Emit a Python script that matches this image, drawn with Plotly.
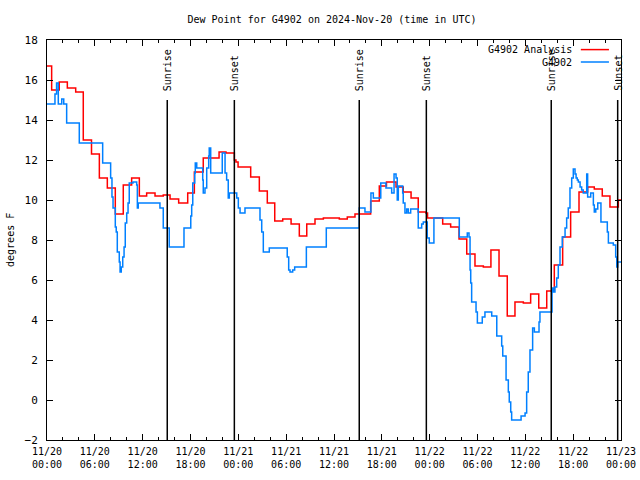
import plotly.graph_objects as go

# ---- data ----
analysis_time = [
    "2024-11-20 00:00", "2024-11-20 00:35", "2024-11-20 01:32", "2024-11-20 02:33", "2024-11-20 03:36",
    "2024-11-20 04:33", "2024-11-20 05:35", "2024-11-20 06:34", "2024-11-20 07:34", "2024-11-20 08:34",
    "2024-11-20 09:34", "2024-11-20 10:37", "2024-11-20 11:35", "2024-11-20 12:30", "2024-11-20 13:33",
    "2024-11-20 14:35", "2024-11-20 15:26", "2024-11-20 16:31", "2024-11-20 17:39", "2024-11-20 18:29",
    "2024-11-20 19:36", "2024-11-20 21:35", "2024-11-20 22:27", "2024-11-20 23:30", "2024-11-20 23:42",
    "2024-11-20 23:58", "2024-11-21 01:33", "2024-11-21 02:38", "2024-11-21 03:38", "2024-11-21 04:34",
    "2024-11-21 05:34", "2024-11-21 06:37", "2024-11-21 07:39", "2024-11-21 08:35", "2024-11-21 09:37",
    "2024-11-21 10:40", "2024-11-21 12:40", "2024-11-21 13:40", "2024-11-21 14:38", "2024-11-21 16:36",
    "2024-11-21 17:41", "2024-11-21 18:35", "2024-11-21 19:47", "2024-11-21 20:41", "2024-11-21 21:40",
    "2024-11-21 22:34", "2024-11-21 23:32", "2024-11-21 23:44", "2024-11-22 01:38", "2024-11-22 02:38",
    "2024-11-22 03:41", "2024-11-22 04:39", "2024-11-22 05:41", "2024-11-22 06:44", "2024-11-22 07:41",
    "2024-11-22 08:42", "2024-11-22 09:44", "2024-11-22 10:42", "2024-11-22 11:45", "2024-11-22 12:40",
    "2024-11-22 13:41", "2024-11-22 14:41", "2024-11-22 15:38", "2024-11-22 16:41", "2024-11-22 17:41",
    "2024-11-22 18:44", "2024-11-22 19:49", "2024-11-22 20:39", "2024-11-22 21:39", "2024-11-22 22:37",
    "2024-11-22 23:40", "2024-11-23 00:00",
]
analysis_dewpt = [
    16.7, 15.5, 15.9, 15.6, 15.4,
    13.0, 12.3, 11.1, 10.6, 9.3,
    10.75, 11.1, 10.2, 10.35, 10.2,
    10.25, 10.05, 9.85, 10.35, 11.4,
    12.1, 12.4, 12.35, 12.0, 11.9,
    11.65, 11.15, 10.45, 9.85, 8.95,
    9.05, 8.8, 8.2, 8.8, 9.05,
    9.1, 9.05, 9.15, 9.3, 9.95,
    10.7, 10.9, 10.65, 10.4, 10.1,
    9.4, 9.35, 9.1, 8.8, 8.65,
    8.05, 7.3, 6.7, 6.65, 7.5,
    6.2, 4.2, 4.9, 4.85, 5.3,
    4.6, 5.45, 6.75, 8.15, 9.4,
    10.4, 10.65, 10.55, 10.2, 9.65,
    10.0, 10.0,
]

station_time = [
    "2024-11-20 00:00", "2024-11-20 01:00", "2024-11-20 01:12", "2024-11-20 01:25", "2024-11-20 01:51",
    "2024-11-20 02:06", "2024-11-20 02:28", "2024-11-20 04:03", "2024-11-20 06:59", "2024-11-20 07:59",
    "2024-11-20 08:09", "2024-11-20 08:17", "2024-11-20 08:34", "2024-11-20 08:41", "2024-11-20 08:49",
    "2024-11-20 09:04", "2024-11-20 09:10", "2024-11-20 09:19", "2024-11-20 09:30", "2024-11-20 09:40",
    "2024-11-20 09:49", "2024-11-20 10:00", "2024-11-20 10:10", "2024-11-20 10:19", "2024-11-20 10:47",
    "2024-11-20 11:15", "2024-11-20 11:20", "2024-11-20 11:27", "2024-11-20 14:10", "2024-11-20 14:35",
    "2024-11-20 15:20", "2024-11-20 17:11", "2024-11-20 18:02", "2024-11-20 18:09", "2024-11-20 18:17",
    "2024-11-20 18:32", "2024-11-20 18:36", "2024-11-20 18:47", "2024-11-20 19:32", "2024-11-20 19:36",
    "2024-11-20 19:49", "2024-11-20 20:02", "2024-11-20 20:17", "2024-11-20 20:21", "2024-11-20 20:32",
    "2024-11-20 21:59", "2024-11-20 22:20", "2024-11-20 22:32", "2024-11-20 22:44", "2024-11-20 22:52",
    "2024-11-20 23:48", "2024-11-21 00:00", "2024-11-21 00:13", "2024-11-21 00:50", "2024-11-21 02:43",
    "2024-11-21 02:56", "2024-11-21 03:08", "2024-11-21 03:53", "2024-11-21 06:08", "2024-11-21 06:19",
    "2024-11-21 06:29", "2024-11-21 06:49", "2024-11-21 07:04", "2024-11-21 08:32", "2024-11-21 11:02",
    "2024-11-21 15:10", "2024-11-21 15:53", "2024-11-21 16:38", "2024-11-21 16:56", "2024-11-21 17:52",
    "2024-11-21 18:31", "2024-11-21 19:14", "2024-11-21 19:32", "2024-11-21 19:47", "2024-11-21 19:56",
    "2024-11-21 20:04", "2024-11-21 20:37", "2024-11-21 20:41", "2024-11-21 20:54", "2024-11-21 21:07",
    "2024-11-21 21:19", "2024-11-21 21:37", "2024-11-21 22:34", "2024-11-21 23:00", "2024-11-21 23:12",
    "2024-11-21 23:42", "2024-11-21 23:57", "2024-11-22 00:32", "2024-11-22 03:43", "2024-11-22 04:43",
    "2024-11-22 04:56", "2024-11-22 05:04", "2024-11-22 05:09", "2024-11-22 05:16", "2024-11-22 05:49",
    "2024-11-22 05:59", "2024-11-22 06:36", "2024-11-22 06:56", "2024-11-22 07:47", "2024-11-22 08:25",
    "2024-11-22 09:02", "2024-11-22 09:10", "2024-11-22 09:35", "2024-11-22 09:52", "2024-11-22 09:59",
    "2024-11-22 10:10", "2024-11-22 10:17", "2024-11-22 11:28", "2024-11-22 11:58", "2024-11-22 12:10",
    "2024-11-22 12:22", "2024-11-22 12:35", "2024-11-22 12:55", "2024-11-22 13:08", "2024-11-22 13:43",
    "2024-11-22 13:50", "2024-11-22 15:21", "2024-11-22 15:31", "2024-11-22 15:43", "2024-11-22 15:56",
    "2024-11-22 16:08", "2024-11-22 16:21", "2024-11-22 16:38", "2024-11-22 16:59", "2024-11-22 17:11",
    "2024-11-22 17:23", "2024-11-22 17:36", "2024-11-22 17:49", "2024-11-22 18:01", "2024-11-22 18:14",
    "2024-11-22 18:22", "2024-11-22 18:31", "2024-11-22 18:39", "2024-11-22 18:52", "2024-11-22 19:04",
    "2024-11-22 19:16", "2024-11-22 19:42", "2024-11-22 19:49", "2024-11-22 20:12", "2024-11-22 20:32",
    "2024-11-22 20:39", "2024-11-22 20:50", "2024-11-22 21:05", "2024-11-22 21:29", "2024-11-22 22:17",
    "2024-11-22 22:25", "2024-11-22 23:02", "2024-11-22 23:20", "2024-11-22 23:28", "2024-11-22 23:35",
    "2024-11-23 00:00",
]
station_dewpt = [
    14.8, 15.3, 15.85, 14.8, 15.05,
    14.8, 13.85, 12.85, 11.85, 11.1,
    10.15, 9.6, 8.65, 8.4, 7.4,
    6.9, 6.4, 6.65, 7.15, 7.65,
    8.85, 9.35, 9.85, 10.85, 10.9,
    10.75, 9.6, 9.85, 9.6, 8.6,
    7.65, 8.6, 9.2, 9.75, 10.85,
    11.35, 11.85, 11.6, 11.0, 10.35,
    10.6, 11.6, 12.2, 12.6, 11.35,
    12.35, 11.35, 11.0, 10.1, 10.35,
    10.1, 9.6, 9.35, 9.6, 9.0,
    8.4, 7.4, 7.6, 7.15, 6.5,
    6.4, 6.5, 6.65, 7.65, 8.6,
    9.6, 9.4, 10.35, 10.1, 10.85,
    10.6, 10.35, 11.3, 11.1, 10.0,
    10.7, 10.35, 9.85, 9.35, 9.55,
    9.35, 9.55, 8.6, 8.8, 8.9,
    8.1, 7.85, 9.1, 8.15, 8.35,
    8.15, 6.5, 5.85, 4.9, 4.4,
    3.85, 4.15, 4.4, 4.2, 3.2,
    2.7, 2.2, 1.0, 0.4, -0.1,
    -0.6, -1.0, -0.8, -0.65, 0.4,
    1.4, 2.5, 3.6, 3.4, 3.9,
    4.4, 5.6, 5.4, 5.65, 6.1,
    6.75, 7.65, 8.15, 8.6, 9.1,
    9.6, 10.6, 11.1, 11.55, 11.3,
    11.1, 11.0, 10.9, 10.65, 10.5,
    10.35, 11.3, 10.15, 10.35, 9.75,
    9.4, 9.55, 9.85, 8.9, 8.4,
    7.85, 7.75, 7.15, 6.65, 6.9,
    6.9,
]

sun_times = ["2024-11-20 15:05", "2024-11-20 23:30", "2024-11-21 15:10",
             "2024-11-21 23:35", "2024-11-22 15:15", "2024-11-22 23:35"]
sun_labels = ["Sunrise", "Sunset", "Sunrise", "Sunset", "Sunrise", "Sunset"]

tick_vals = ["2024-11-20 00:00", "2024-11-20 06:00", "2024-11-20 12:00", "2024-11-20 18:00",
             "2024-11-21 00:00", "2024-11-21 06:00", "2024-11-21 12:00", "2024-11-21 18:00",
             "2024-11-22 00:00", "2024-11-22 06:00", "2024-11-22 12:00", "2024-11-22 18:00",
             "2024-11-23 00:00"]
tick_text = ["11/20<br>00:00", "11/20<br>06:00", "11/20<br>12:00", "11/20<br>18:00",
             "11/21<br>00:00", "11/21<br>06:00", "11/21<br>12:00", "11/21<br>18:00",
             "11/22<br>00:00", "11/22<br>06:00", "11/22<br>12:00", "11/22<br>18:00",
             "11/23<br>00:00"]

RED = "#ff0000"
BLUE = "#0080ff"
FONT = "DejaVu Sans Mono"

fig = go.Figure()
fig.add_trace(go.Scatter(x=analysis_time, y=analysis_dewpt, mode="lines",
                         line=dict(color=RED, width=1.5, shape="hv"),
                         name="G4902 Analysis", showlegend=False))
fig.add_trace(go.Scatter(x=station_time, y=station_dewpt, mode="lines",
                         line=dict(color=BLUE, width=1.5, shape="hv"),
                         name="G4902", showlegend=False))

for t, lab in zip(sun_times, sun_labels):
    fig.add_shape(type="line", xref="x", yref="y", x0=t, x1=t, y0=-2, y1=15,
                  line=dict(color="black", width=1.5))
    fig.add_annotation(x=t, y=15.35, xref="x", yref="y", text=lab, textangle=-90,
                       showarrow=False, xanchor="center", yanchor="bottom",
                       font=dict(family=FONT, size=10, color="black"))

# legend (gnuplot style: text then sample)
legend_items = [("G4902 Analysis", RED, 0.976), ("G4902", BLUE, 0.945)]
for txt, col, yy in legend_items:
    fig.add_annotation(x=0.918, y=yy, xref="paper", yref="paper", text=txt,
                       showarrow=False, xanchor="right", yanchor="middle",
                       font=dict(family=FONT, size=10, color="black"))
    fig.add_shape(type="line", xref="paper", yref="paper", x0=0.930, x1=0.979,
                  y0=yy, y1=yy, line=dict(color=col, width=1.5))

fig.add_annotation(x=-0.0645, y=0.5, xref="paper", yref="paper", text="degrees F",
                   textangle=-90, showarrow=False, xanchor="center", yanchor="middle",
                   font=dict(family=FONT, size=10, color="black"))

fig.update_layout(
    width=640, height=480,
    margin=dict(l=47, r=19, t=40, b=40, autoexpand=False),
    paper_bgcolor="white", plot_bgcolor="white",
    font=dict(family=FONT, size=10, color="black"),
    title=dict(text="Dew Point for G4902 on 2024-Nov-20 (time in UTC)",
               x=0.4965, xref="paper", xanchor="center", y=0.96, yanchor="middle",
               font=dict(family=FONT, size=10, color="black")),
    showlegend=False,
)
fig.update_xaxes(
    type="date", range=["2024-11-20 00:00", "2024-11-23 00:00"],
    tickvals=tick_vals, ticktext=tick_text, automargin=False,
    ticks="inside", ticklen=6, tickcolor="black", tickwidth=1,
    ticklabelstandoff=2,
    minor=dict(dtick=2 * 3600 * 1000, tick0="2024-11-20 00:00", ticks="inside",
               ticklen=3, tickcolor="black", showgrid=False),
    showline=True, linecolor="black", linewidth=1, mirror="ticks",
    showgrid=False, zeroline=False,
    tickfont=dict(family=FONT, size=10, color="black"),
)
fig.update_yaxes(
    range=[-2, 18], dtick=2, tick0=0, automargin=False,
    ticks="inside", ticklen=6, tickcolor="black", tickwidth=1,
    ticklabelstandoff=6,
    showline=True, linecolor="black", linewidth=1, mirror="ticks",
    showgrid=False, zeroline=False,
    tickfont=dict(family=FONT, size=11, color="black"),
)

html = fig.to_html(full_html=True, include_plotlyjs=True,
                   config={"displayModeBar": False})
html = html.replace("<head>", "<head><style>html,body{margin:0;padding:0;overflow:hidden;}</style>", 1)
with open("out.html", "w", encoding="utf-8") as f:
    f.write(html)
